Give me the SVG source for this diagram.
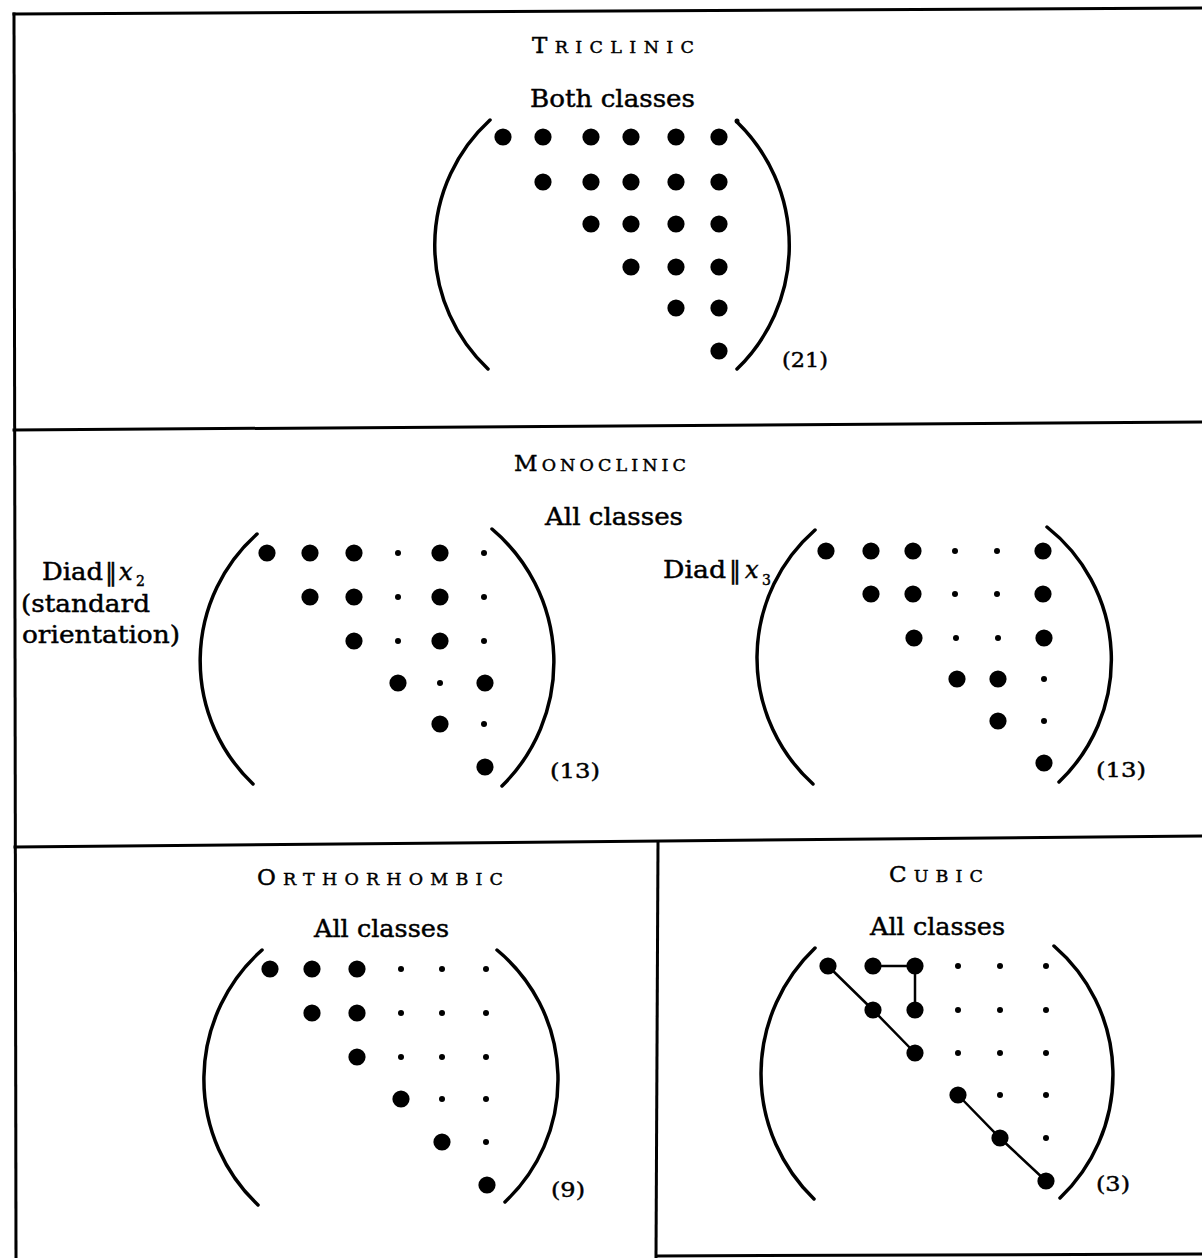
<svg xmlns="http://www.w3.org/2000/svg" xmlns:xlink="http://www.w3.org/1999/xlink" width="1202" height="1258" viewBox="0 0 1202 1258">
<style>
  .frame { stroke:#000; stroke-width:3; fill:none; stroke-linecap:square; }
  .paren { stroke:#000; stroke-width:3.5; fill:none; stroke-linecap:round; }
  .conn { stroke:#000; stroke-width:2.5; fill:none; }
  text { font-family:"DejaVu Serif","Liberation Serif",serif; fill:#000; stroke:#000; stroke-width:0.45; }
  .lbl { font-size:24px; }
  .cap { font-size:23px; }
  .sc { font-size:17.5px; }
  .num { font-size:21px; }
  .it { font-style:italic; }
  .sub { font-size:14px; }
</style>
<defs>
  <circle id="B" r="8.6" fill="#000"/>
  <circle id="s" r="3" fill="#000"/>
</defs>

<g id="frame">
  <line class="frame" x1="14" y1="14" x2="1202" y2="8"/>
  <line class="frame" x1="14" y1="14" x2="16" y2="1258"/>
  <line class="frame" x1="14" y1="430" x2="1202" y2="422"/>
  <line class="frame" x1="15" y1="847" x2="1202" y2="836"/>
  <line class="frame" x1="658" y1="843" x2="656" y2="1258"/>
  <line class="frame" x1="657" y1="1256" x2="1202" y2="1254"/>
</g>

<g id="triclinic">
  <text x="532" y="53" textLength="162" lengthAdjust="spacing"><tspan class="cap">T</tspan><tspan class="sc">RICLINIC</tspan></text>
  <text class="lbl" x="530" y="107" textLength="165" lengthAdjust="spacingAndGlyphs">Both classes</text>
  <path class="paren" d="M490,120 A170,170 0 0 0 488,369"/>
  <path class="paren" d="M737,122 A172,172 0 0 1 737,369"/>
  <circle cx="737" cy="121" r="2.5"/>
  <use href="#B" x="503" y="137"/><use href="#B" x="543" y="137"/><use href="#B" x="591" y="137"/><use href="#B" x="631" y="137"/><use href="#B" x="676" y="137"/><use href="#B" x="719" y="137"/>
  <use href="#B" x="543" y="182"/><use href="#B" x="591" y="182"/><use href="#B" x="631" y="182"/><use href="#B" x="676" y="182"/><use href="#B" x="719" y="182"/>
  <use href="#B" x="591" y="224"/><use href="#B" x="631" y="224"/><use href="#B" x="676" y="224"/><use href="#B" x="719" y="224"/>
  <use href="#B" x="631" y="267"/><use href="#B" x="676" y="267"/><use href="#B" x="719" y="267"/>
  <use href="#B" x="676" y="308"/><use href="#B" x="719" y="308"/>
  <use href="#B" x="719" y="351"/>
  <text class="num" x="782" y="367" textLength="46" lengthAdjust="spacingAndGlyphs">(21)</text>
</g>

<g id="monoclinic-title">
  <text x="514" y="471" textLength="172" lengthAdjust="spacing"><tspan class="cap">M</tspan><tspan class="sc">ONOCLINIC</tspan></text>
  <text class="lbl" x="545" y="525" textLength="138" lengthAdjust="spacingAndGlyphs">All classes</text>
</g>

<g id="monoclinic-x2">
  <text class="lbl" x="42" y="580" textLength="61" lengthAdjust="spacingAndGlyphs">Diad</text>
  <text class="lbl" x="105" y="580">‖</text>
  <text class="lbl it" x="119" y="580">x</text>
  <text class="sub" x="136" y="586">2</text>
  <text class="lbl" x="21" y="612" textLength="129" lengthAdjust="spacingAndGlyphs">(standard</text>
  <text class="lbl" x="22" y="643" textLength="158" lengthAdjust="spacingAndGlyphs">orientation)</text>
  <path class="paren" d="M257,534 A170,170 0 0 0 253,784"/>
  <path class="paren" d="M492,529 A174,174 0 0 1 502,786"/>
  <use href="#B" x="267" y="553"/><use href="#B" x="310" y="553"/><use href="#B" x="354" y="553"/><use href="#s" x="398" y="553"/><use href="#B" x="440" y="553"/><use href="#s" x="484" y="553"/>
  <use href="#B" x="310" y="597"/><use href="#B" x="354" y="597"/><use href="#s" x="398" y="597"/><use href="#B" x="440" y="597"/><use href="#s" x="484" y="597"/>
  <use href="#B" x="354" y="641"/><use href="#s" x="398" y="641"/><use href="#B" x="440" y="641"/><use href="#s" x="484" y="641"/>
  <use href="#B" x="398" y="683"/><use href="#s" x="440" y="683"/><use href="#B" x="485" y="683"/>
  <use href="#B" x="440" y="724"/><use href="#s" x="484" y="724"/>
  <use href="#B" x="485" y="767"/>
  <text class="num" x="550" y="778" textLength="50" lengthAdjust="spacingAndGlyphs">(13)</text>
</g>

<g id="monoclinic-x3">
  <text class="lbl" x="663" y="578" textLength="63" lengthAdjust="spacingAndGlyphs">Diad</text>
  <text class="lbl" x="729" y="578">‖</text>
  <text class="lbl it" x="745" y="578">x</text>
  <text class="sub" x="762" y="585">3</text>
  <path class="paren" d="M815,530 A170,170 0 0 0 813,784"/>
  <path class="paren" d="M1047,527 A169,169 0 0 1 1059,782"/>
  <use href="#B" x="826" y="551"/><use href="#B" x="871" y="551"/><use href="#B" x="913" y="551"/><use href="#s" x="955" y="551"/><use href="#s" x="997" y="551"/><use href="#B" x="1043" y="551"/>
  <use href="#B" x="871" y="594"/><use href="#B" x="913" y="594"/><use href="#s" x="955" y="594"/><use href="#s" x="997" y="594"/><use href="#B" x="1043" y="594"/>
  <use href="#B" x="914" y="638"/><use href="#s" x="956" y="638"/><use href="#s" x="998" y="638"/><use href="#B" x="1044" y="638"/>
  <use href="#B" x="957" y="679"/><use href="#B" x="998" y="679"/><use href="#s" x="1044" y="679"/>
  <use href="#B" x="998" y="721"/><use href="#s" x="1044" y="721"/>
  <use href="#B" x="1044" y="763"/>
  <text class="num" x="1096" y="777" textLength="50" lengthAdjust="spacingAndGlyphs">(13)</text>
</g>

<g id="orthorhombic">
  <text x="257" y="885" textLength="246" lengthAdjust="spacing"><tspan class="cap">O</tspan><tspan class="sc">RTHORHOMBIC</tspan></text>
  <text class="lbl" x="314" y="937" textLength="135" lengthAdjust="spacingAndGlyphs">All classes</text>
  <path class="paren" d="M262,950 A173,173 0 0 0 258,1205"/>
  <path class="paren" d="M497,950 A168,168 0 0 1 505,1202"/>
  <use href="#B" x="270" y="969"/><use href="#B" x="312" y="969"/><use href="#B" x="357" y="969"/><use href="#s" x="401" y="969"/><use href="#s" x="442" y="969"/><use href="#s" x="486" y="969"/>
  <use href="#B" x="312" y="1013"/><use href="#B" x="357" y="1013"/><use href="#s" x="401" y="1013"/><use href="#s" x="442" y="1013"/><use href="#s" x="486" y="1013"/>
  <use href="#B" x="357" y="1057"/><use href="#s" x="401" y="1057"/><use href="#s" x="442" y="1057"/><use href="#s" x="486" y="1057"/>
  <use href="#B" x="401" y="1099"/><use href="#s" x="442" y="1099"/><use href="#s" x="486" y="1099"/>
  <use href="#B" x="442" y="1142"/><use href="#s" x="486" y="1142"/>
  <use href="#B" x="487" y="1185"/>
  <text class="num" x="551" y="1197" textLength="34" lengthAdjust="spacingAndGlyphs">(9)</text>
</g>

<g id="cubic">
  <text x="889" y="882" textLength="94" lengthAdjust="spacing"><tspan class="cap">C</tspan><tspan class="sc">UBIC</tspan></text>
  <text class="lbl" x="870" y="935" textLength="135" lengthAdjust="spacingAndGlyphs">All classes</text>
  <path class="paren" d="M815,948 A174,174 0 0 0 814,1199"/>
  <path class="paren" d="M1054,946 A170,170 0 0 1 1060,1198"/>
  <g id="connectors">
    <polyline class="conn" points="828,966 873,1010 915,1053"/>
    <polyline class="conn" points="873,966 915,966 915,1010"/>
    <polyline class="conn" points="958,1095 1000,1138 1046,1181"/>
  </g>
  <use href="#B" x="828" y="966"/><use href="#B" x="873" y="966"/><use href="#B" x="915" y="966"/><use href="#s" x="958" y="966"/><use href="#s" x="1000" y="966"/><use href="#s" x="1046" y="966"/>
  <use href="#B" x="873" y="1010"/><use href="#B" x="915" y="1010"/><use href="#s" x="958" y="1010"/><use href="#s" x="1000" y="1010"/><use href="#s" x="1046" y="1010"/>
  <use href="#B" x="915" y="1053"/><use href="#s" x="958" y="1053"/><use href="#s" x="1000" y="1053"/><use href="#s" x="1046" y="1053"/>
  <use href="#B" x="958" y="1095"/><use href="#s" x="1000" y="1095"/><use href="#s" x="1046" y="1095"/>
  <use href="#B" x="1000" y="1138"/><use href="#s" x="1046" y="1138"/>
  <use href="#B" x="1046" y="1181"/>
  <text class="num" x="1096" y="1191" textLength="34" lengthAdjust="spacingAndGlyphs">(3)</text>
</g>
</svg>
